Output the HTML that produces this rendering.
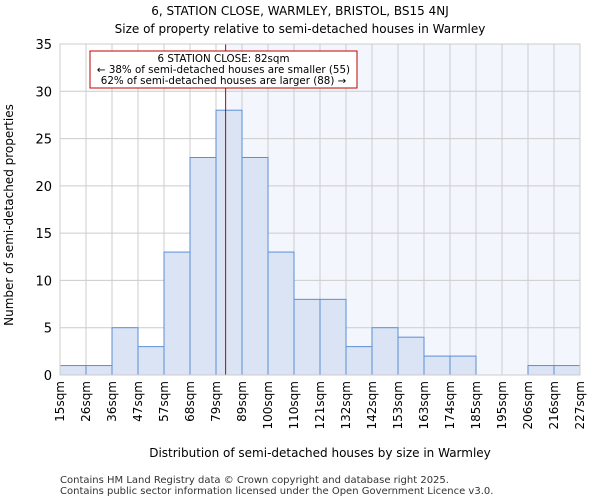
<!DOCTYPE html>
<html><head><meta charset="utf-8"><style>
body{margin:0;background:#fff;font-family:"DejaVu Sans","Liberation Sans",sans-serif}
</style></head><body>
<svg id="chart" width="600" height="500" xmlns="http://www.w3.org/2000/svg" font-family="DejaVu Sans, Liberation Sans, sans-serif">
<text x="300" y="15" text-anchor="middle" font-size="12">6, STATION CLOSE, WARMLEY, BRISTOL, BS15 4NJ</text>
<text x="300" y="33" text-anchor="middle" font-size="12">Size of property relative to semi-detached houses in Warmley</text>
<g id="plot"></g>
<text x="320" y="457" text-anchor="middle" font-size="12">Distribution of semi-detached houses by size in Warmley</text>
<text transform="translate(13,215) rotate(-90)" text-anchor="middle" font-size="12">Number of semi-detached properties</text>
<text x="60" y="483" font-size="10" fill="#333">Contains HM Land Registry data © Crown copyright and database right 2025.</text>
<text x="60" y="494" font-size="10" fill="#333">Contains public sector information licensed under the Open Government Licence v3.0.</text>
</svg>
<script>
const binLabels=["15sqm","26sqm","36sqm","47sqm","57sqm","68sqm","79sqm","89sqm","100sqm","110sqm","121sqm","132sqm","142sqm","153sqm","163sqm","174sqm","185sqm","195sqm","206sqm","216sqm","227sqm"];
const counts=[1,1,5,3,13,23,28,23,13,8,8,3,5,4,2,2,0,0,1,1];
const yTicks=[0,5,10,15,20,25,30,35];
const markerBin=6.37;
const NS="http://www.w3.org/2000/svg";
const L=60,R=580,T=44,B=375,yMax=35;
const bw=(R-L)/counts.length;
const xs=i=>L+i*bw;
const ys=v=>B-(v/yMax)*(B-T);
const g=document.getElementById('plot');
function mk(t,a,p){const e=document.createElementNS(NS,t);for(const k in a)e.setAttribute(k,a[k]);(p||g).appendChild(e);return e;}
const mx=xs(markerBin);
const bg=mk('rect',{x:mx,y:T,width:R-mx,height:B-T,fill:'#f3f6fd'});


yTicks.forEach(v=>{
 const l=mk('line',{x1:L,x2:R,y1:ys(v),y2:ys(v),stroke:'#ccc'});
 
 
 const t=mk('text',{x:L-8,y:ys(v)+5,'text-anchor':'end','font-size':'13'});t.textContent=v;
 
 
});
binLabels.forEach((s,i)=>{
 const l=mk('line',{x1:xs(i),x2:xs(i),y1:T,y2:B,stroke:'#ccc'});
 
 
 const t=mk('text',{transform:`translate(${xs(i)+4},${B+6}) rotate(-90)`,'text-anchor':'end','font-size':'12'});t.textContent=s;
 
 
});
counts.forEach((c,i)=>{
 if(c<=0)return;
 const r=mk('rect',{x:xs(i),y:ys(c),width:bw,height:B-ys(c),fill:'#dae4f4',stroke:'#5b8fd6','stroke-width':1});
 
 
});
const ml=mk('line',{x1:mx,x2:mx,y1:T,y2:B,stroke:'#c00000','stroke-width':1});


const box=mk('rect',{x:90,y:51,width:267,height:37,fill:'#fff',stroke:'#c00000'});


["6 STATION CLOSE: 82sqm","← 38% of semi-detached houses are smaller (55)","62% of semi-detached houses are larger (88) →"].forEach((s,i)=>{
 const t=mk('text',{x:223.5,y:62+i*11,'text-anchor':'middle','font-size':'10.3'});t.textContent=s;
 
 
});
const ax=mk('rect',{x:L,y:T,width:R-L,height:B-T,fill:'none',stroke:'#ccc'});


</script>
</body></html>
